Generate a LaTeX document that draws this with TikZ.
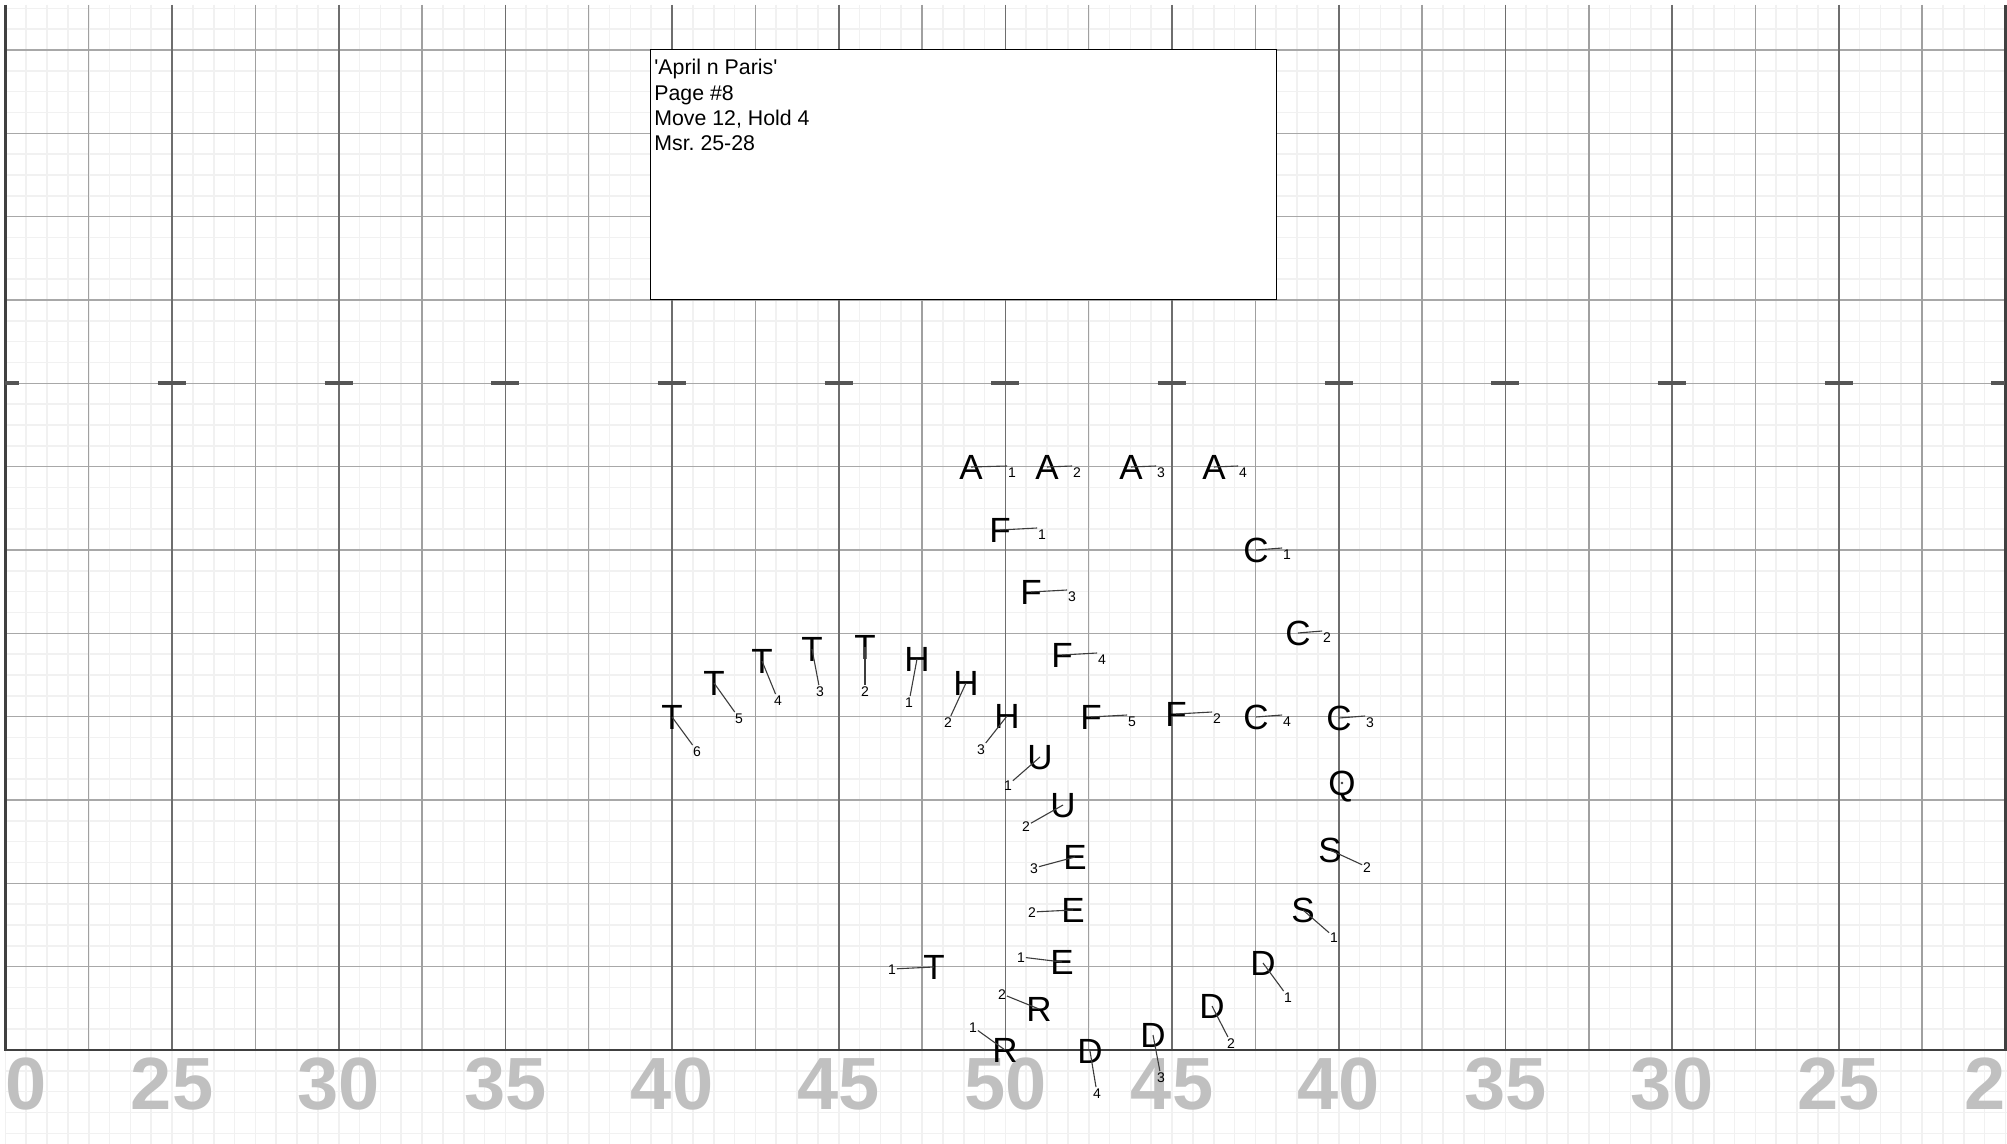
\documentclass[tikz,border=0pt]{standalone}
\usepackage{fontspec}
\setmainfont{Liberation Sans}
\frenchspacing
\definecolor{minorc}{RGB}{241,241,241}
\definecolor{halfc}{RGB}{160,160,160}
\definecolor{yardc}{RGB}{110,110,110}
\definecolor{edgec}{RGB}{64,64,64}
\definecolor{horc}{RGB}{168,168,168}
\definecolor{numc}{RGB}{192,192,192}
\definecolor{leadc}{RGB}{60,60,60}
\definecolor{hashc}{RGB}{85,85,85}
\tikzset{
 minorline/.style={draw=minorc, line width=0.8pt},
 halfline/.style={draw=halfc, line width=0.75pt},
 yardline/.style={draw=yardc, line width=0.8pt},
 edgeline/.style={draw=edgec, line width=1.1pt},
 horline/.style={draw=horc, line width=0.75pt},
 hashtick/.style={draw=hashc, line width=2pt},
 yardnum/.style={text=numc, font=\fontsize{37pt}{37pt}\selectfont\bfseries, anchor=base, inner sep=0pt},
 sym/.style={font=\fontsize{17.5pt}{17.5pt}\selectfont, text height=12.5pt, text depth=0pt, inner sep=0pt, anchor=center},
 lbl/.style={font=\fontsize{7pt}{7pt}\selectfont, text height=5pt, text depth=0pt, inner sep=0.3pt, anchor=center},
 lead/.style={draw=leadc, line width=0.55pt},
 infobox/.style={draw=black, fill=white, line width=0.7pt},
 infotext/.style={anchor=base west, inner sep=0pt, font=\fontsize{10.65pt}{12.65pt}\selectfont},
}
\begin{document}
\begin{tikzpicture}[x=0.5pt,y=-0.5pt]
\useasboundingbox (0,0) rectangle (2007,1144);
\clip (0,0) rectangle (2007,1144);
\fill[white] (0,0) rectangle (2007,1144);
% minor grid
\foreach \i in {0,...,96} \draw[minorline] ({5.4+20.8333*\i},5) -- ({5.4+20.8333*\i},1144);
\foreach \j in {0,...,54} \draw[minorline] (5.4,{8.33+20.8333*\j}) -- (2007,{8.33+20.8333*\j});
% horizontal major lines
\foreach \m in {0,...,11} \draw[horline] (5.4,{50+83.3333*\m}) -- (2005.4,{50+83.3333*\m});
% vertical lines
\foreach \k in {1,3,...,23} \draw[halfline] ({5.4+83.3333*\k},5) -- ({5.4+83.3333*\k},1050);
\foreach \k in {2,4,...,22} \draw[yardline] ({5.4+83.3333*\k},5) -- ({5.4+83.3333*\k},1050);
% field edges
\draw[edgeline] (5.4,5) -- (5.4,1050) -- (2005.4,1050) -- (2005.4,5);
% hash ticks
\foreach \k in {2,4,...,22} \draw[hashtick] ({5.4+83.3333*\k-14},383.33) -- ++(28,0);
\draw[hashtick] (5.4,383.33) -- ++(14,0);
\draw[hashtick] (2005.4,383.33) -- ++(-14,0);
% yard numbers
\begin{scope}
\clip (5.4,1050) rectangle (2007,1144);
\foreach \k/\t in {0/20,2/25,4/30,6/35,8/40,10/45,12/50,14/45,16/40,18/35,20/30,22/25,24/20}
  \node[yardnum] (yn\k) at ({5.4+83.3333*\k},1109) {\t};
\end{scope}
% info box
\draw[infobox] (650.4,49.5) rectangle (1276.5,299.3);
\node[infotext] (info1) at (654,74.8) {\textquotesingle April n Paris\textquotesingle};
\node[infotext] (info2) at (654,100.2) {Page \#8};
\node[infotext] (info3) at (654,125.6) {Move 12, Hold 4};
\node[infotext] (info4) at (654,150.8) {Msr. 25-28};
% performers whose leader runs straight right into the top of the number
\foreach \nm/\ch/\px/\py/\nx/\ny/\num in {
 A1/A/971/467/1012/472/1,
 A2/A/1047/467/1077/472/2,
 A3/A/1131/467/1161/472/3,
 A4/A/1214/467/1243/472/4,
 F1/F/1000/530/1042/534/1,
 C1/C/1256/550/1287/554/1,
 F3/F/1031/592/1072/596/3,
 C2/C/1298/633/1327/637/2,
 F4/F/1062/655/1102/659/4,
 F5/F/1091/717/1132/721/5,
 F2/F/1176/714/1217/718/2,
 C4/C/1256/717/1287/721/4,
 C3/C/1339/718/1370/722/3}{
  \node[sym] (\nm) at (\px,\py) {\ch};
  \node[lbl] (n\nm) at (\nx,\ny) {\num};
  \draw[lead] (\nm.center) -- (n\nm.north west);
}
% performers with slanted leaders
\foreach \nm/\ch/\px/\py/\nx/\ny/\num in {
 T2/T/865/647/865/691/2,
 T3/T/812/649/820/691/3,
 T4/T/762/661/778/700/4,
 T5/T/714/683/739/718/5,
 T6/T/672/717/697/751/6,
 H1/H/917/659/909/702/1,
 H2/H/966/683/948/722/2,
 H3/H/1007/716/981/749/3,
 U1/U/1040/757/1008/785/1,
 U2/U/1063/805/1026/826/2,
 E3/E/1075/857/1034/868/3,
 S2/S/1330/850/1367/867/2,
 E2/E/1073/910/1032/912/2,
 S1/S/1303/910/1334/937/1,
 E1/E/1062/962/1021/957/1,
 T1/T/934/967/892/969/1,
 D1/D/1263/963/1288/997/1,
 R2/R/1039/1009/1002/994/2,
 D2/D/1212/1006/1231/1043/2,
 D3/D/1153/1035/1161/1077/3,
 R1/R/1005/1050/973/1027/1,
 D4/D/1090/1051/1097/1093/4}{
  \node[sym] (\nm) at (\px,\py) {\ch};
  \node[lbl] (n\nm) at (\nx,\ny) {\num};
  \draw[lead] (\nm.center) -- (n\nm);
}
\node[sym] (Q1) at (1342,783) {Q};
\fill[leadc] (Q1.center) circle[radius=0.7pt];
\end{tikzpicture}
\end{document}
